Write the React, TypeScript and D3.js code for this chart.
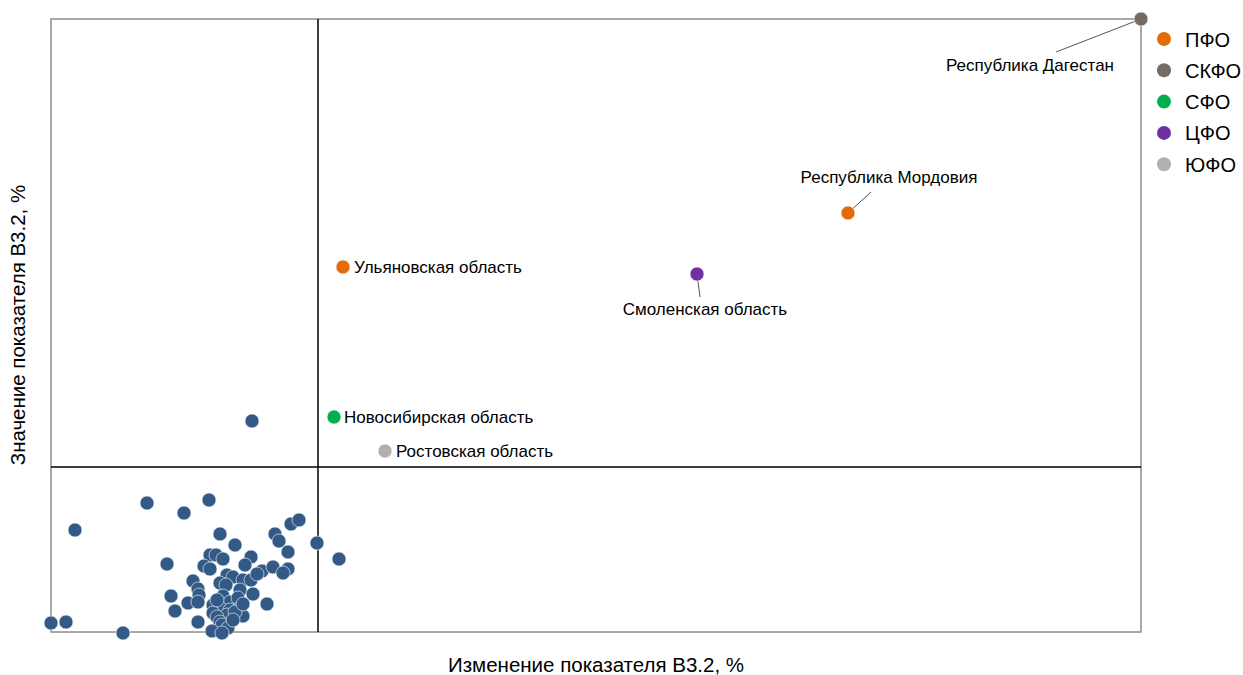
// Scatter: Значение vs Изменение показателя В3.2, regions coloured by federal district
import * as d3 from 'd3'

const W = 1243
const H = 675
const LEFT = 51
const RIGHT = 1141
const TOP = 19
const BOTTOM = 632

const FONT = '"Liberation Sans", Arial, sans-serif'
const BLUE = '#335a86'

// unnamed regions: [change, value]
const otherX = [
  0.0, 1.5, 7.2, 2.4, 9.6, 13.3, 15.8, 20.1, 16.9, 18.4, 15.9, 16.5, 17.2, 11.6, 15.3, 15.9, 20.0,
  19.4, 22.4, 22.8, 24.0, 24.8, 23.7, 26.6, 28.8, 21.1, 22.2, 23.7, 23.2, 17.6, 18.2, 19.2, 20.0,
  20.6, 14.2, 16.9, 17.5, 14.7, 14.8, 12.0, 13.7, 14.7, 17.2, 17.9, 18.9, 20.2, 18.7, 21.6, 16.2,
  16.9, 17.9, 18.9, 12.4, 16.2, 17.6, 19.2, 16.6, 14.7, 16.9, 17.6, 17.1, 17.7, 16.1, 17.1, 18.4,
  16.6, 18.2, 19.2,
]
const otherY = [
  0.9, 1.0, -0.1, 10.2, 12.9, 11.9, 13.2, 21.1, 9.8, 8.7, 7.7, 7.7, 7.3, 6.8, 6.6, 6.3, 7.5,
  6.7, 9.8, 9.1, 10.8, 11.2, 8.0, 8.9, 7.3, 6.1, 6.5, 6.3, 5.9, 5.7, 5.5, 5.2, 5.2,
  5.8, 5.1, 4.9, 4.7, 4.3, 3.7, 3.6, 2.9, 3.0, 3.6, 3.0, 4.2, 3.8, 3.4, 2.8, 2.7,
  2.4, 2.2, 2.4, 2.1, 1.9, 1.7, 1.6, 1.5, 1.0, 1.0, 0.5, 0.7, 0.4, 0.1, -0.1, 2.0,
  3.2, 1.2, 2.8,
]

// named regions
const names = [
  'Республика Дагестан',
  'Республика Мордовия',
  'Ульяновская область',
  'Смоленская область',
  'Новосибирская область',
  'Ростовская область',
]
const namedX = [109.0, 79.7, 29.2, 64.6, 28.3, 33.4]
const namedY = [61.3, 41.9, 36.5, 35.8, 21.5, 18.1]
const namedDistrict = ['СКФО', 'ПФО', 'ПФО', 'ЦФО', 'СФО', 'ЮФО']

const districts = ['ПФО', 'СКФО', 'СФО', 'ЦФО', 'ЮФО']
const districtColors = ['#e36c09', '#766a62', '#00b050', '#7030a0', '#b0b0b0']

// quadrant thresholds
const xThreshold = 26.7
const yThreshold = 16.5

// label placement relative to the point
const labelPos: Record<string, { dx: number; dy: number; anchor: string; lx?: number; ly?: number }> = {
  'Республика Дагестан': { dx: -111, dy: 52, anchor: 'middle', lx: -85, ly: 33 },
  'Республика Мордовия': { dx: 41, dy: -30, anchor: 'middle', lx: 23, ly: -21 },
  'Смоленская область': { dx: 8, dy: 41, anchor: 'middle', lx: 3, ly: 23 },
  'Ульяновская область': { dx: 11, dy: 6, anchor: 'start' },
  'Новосибирская область': { dx: 10, dy: 6, anchor: 'start' },
  'Ростовская область': { dx: 11, dy: 6, anchor: 'start' },
}

export default function App() {
  const x = d3.scaleLinear().domain([0, 109]).range([LEFT, RIGHT])
  const y = d3.scaleLinear().domain([0, 61.3]).range([BOTTOM, TOP])
  const color = d3.scaleOrdinal<string, string>().domain(districts).range(districtColors)

  const others = otherX.map((v, i) => ({ x: v, y: otherY[i] }))
  const named = names.map((n, i) => ({ name: n, x: namedX[i], y: namedY[i], d: namedDistrict[i] }))

  return (
    <svg width={W} height={H} style={{ position: 'absolute', left: 0, top: 0, fontFamily: FONT }}>
      <rect x={LEFT} y={TOP} width={RIGHT - LEFT} height={BOTTOM - TOP} fill="none" stroke="#8c8c8c" strokeWidth={1.5} />

      {/* quadrant lines */}
      <line x1={x(xThreshold)} x2={x(xThreshold)} y1={TOP} y2={BOTTOM} stroke="#000" strokeWidth={1.5} />
      <line x1={LEFT} x2={RIGHT} y1={y(yThreshold)} y2={y(yThreshold)} stroke="#000" strokeWidth={1.5} />

      {others.map((p, i) => (
        <circle key={i} cx={x(p.x)} cy={y(p.y)} r={7} fill={BLUE} stroke="#fff" strokeWidth={0.6} />
      ))}

      {named.map((p) => {
        const cx = x(p.x)
        const cy = y(p.y)
        const lp = labelPos[p.name]
        return (
          <g key={p.name}>
            {lp.lx !== undefined && (
              <line x1={cx} y1={cy} x2={cx + lp.lx} y2={cy + (lp.ly ?? 0)} stroke="#555" strokeWidth={1} />
            )}
            <circle cx={cx} cy={cy} r={7} fill={color(p.d)} stroke="#fff" strokeWidth={0.6} />
            <text x={cx + lp.dx} y={cy + lp.dy} textAnchor={lp.anchor} fontSize={17} fill="#000">
              {p.name}
            </text>
          </g>
        )
      })}

      {/* legend */}
      {districts.map((d, i) => (
        <g key={d} transform={`translate(1164, ${39 + i * 31.3})`}>
          <circle r={7} fill={color(d)} />
          <text x={21} y={7.5} fontSize={20} fill="#000">{d}</text>
        </g>
      ))}

      {/* axis titles */}
      <text x={596} y={672} textAnchor="middle" fontSize={20.5} fill="#000">
        Изменение показателя В3.2, %
      </text>
      <text transform="translate(25, 325) rotate(-90)" textAnchor="middle" fontSize={20.5} fill="#000">
        Значение показателя В3.2, %
      </text>
    </svg>
  )
}
